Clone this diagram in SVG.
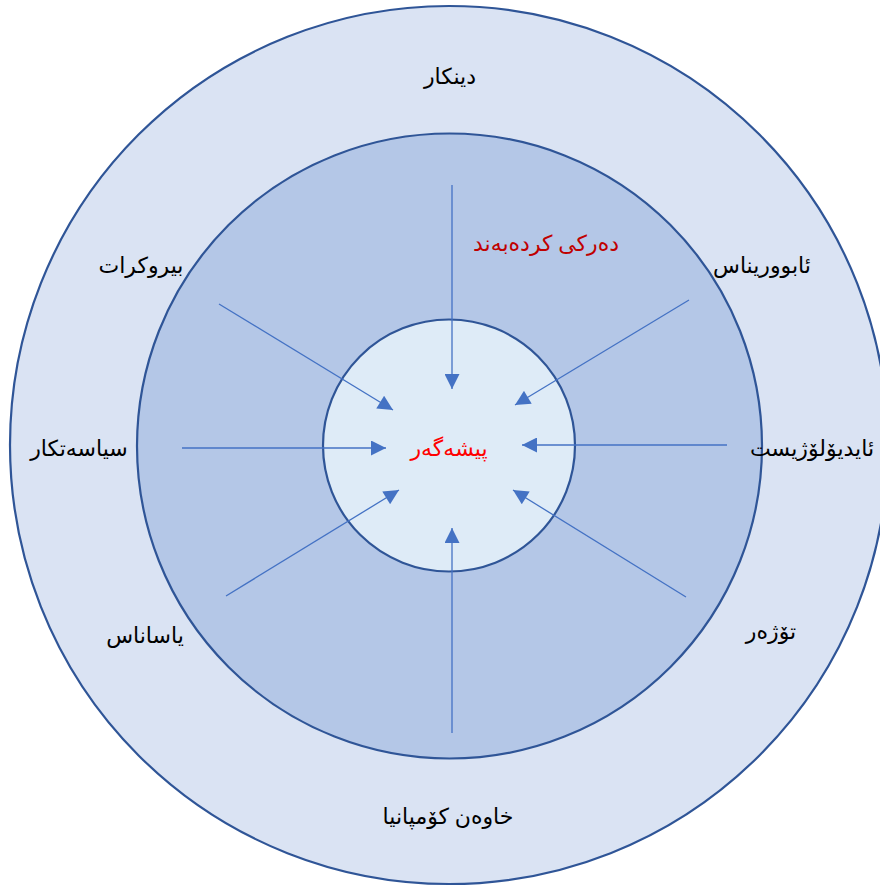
<svg xmlns="http://www.w3.org/2000/svg" width="880" height="889" viewBox="0 0 880 889">
<defs>
<marker id="ah" viewBox="0 0 10 10" refX="10" refY="5" markerWidth="16" markerHeight="15" markerUnits="userSpaceOnUse" orient="auto">
<path d="M0,0 L10,5 L0,10 Z" fill="#4472C4"/>
</marker>
<style>
.ring{stroke:#2F5597;stroke-width:2.2}
.c{stroke:#4472C4;stroke-width:1.3;fill:none;marker-end:url(#ah)}
.t{font-family:"Noto Sans","DejaVu Sans",sans-serif;font-size:22px;fill:#000;text-anchor:middle;direction:rtl}
</style>
</defs>
<rect width="880" height="889" fill="#fff"/>
<g id="outer"><circle class="ring" cx="449" cy="445" r="439" fill="#DAE3F3"/></g>
<g id="middle"><circle class="ring" cx="449.5" cy="446" r="312.5" fill="#B4C7E7"/></g>
<g id="inner"><circle class="ring" cx="449" cy="445.5" r="126" fill="#DEEBF7"/></g>
<g id="connectors">
<path class="c" d="M452,185 L452,389"/>
<path class="c" d="M689,300 L515,405"/>
<path class="c" d="M727,445 L522,445"/>
<path class="c" d="M686,597 L513,490"/>
<path class="c" d="M452,733 L452,528"/>
<path class="c" d="M226,596 L399,490"/>
<path class="c" d="M182,448 L386,448"/>
<path class="c" d="M219,304 L393,410"/>
</g>
<g id="n-dinkar"><text class="t" x="450" y="84">دینکار</text></g>
<g id="n-derki"><text class="t" x="546" y="251" style="fill:#C00000">دەرکی کردەبەند</text></g>
<g id="n-biro"><text class="t" x="141" y="273">بیروکرات</text></g>
<g id="n-abor"><text class="t" x="762" y="273">ئابووریناس</text></g>
<g id="n-siyasa"><text class="t" x="79" y="456">سیاسەتکار</text></g>
<g id="n-ideo"><text class="t" x="812" y="456">ئایدیۆلۆژیست</text></g>
<g id="n-pisha"><text class="t" x="449" y="456" style="fill:#FF0000">پیشەگەر</text></g>
<g id="n-yasa"><text class="t" x="145" y="643">یاساناس</text></g>
<g id="n-tozhar"><text class="t" x="771" y="639">تۆژەر</text></g>
<g id="n-khawan"><text class="t" x="448" y="824">خاوەن کۆمپانیا</text></g>
</svg>
